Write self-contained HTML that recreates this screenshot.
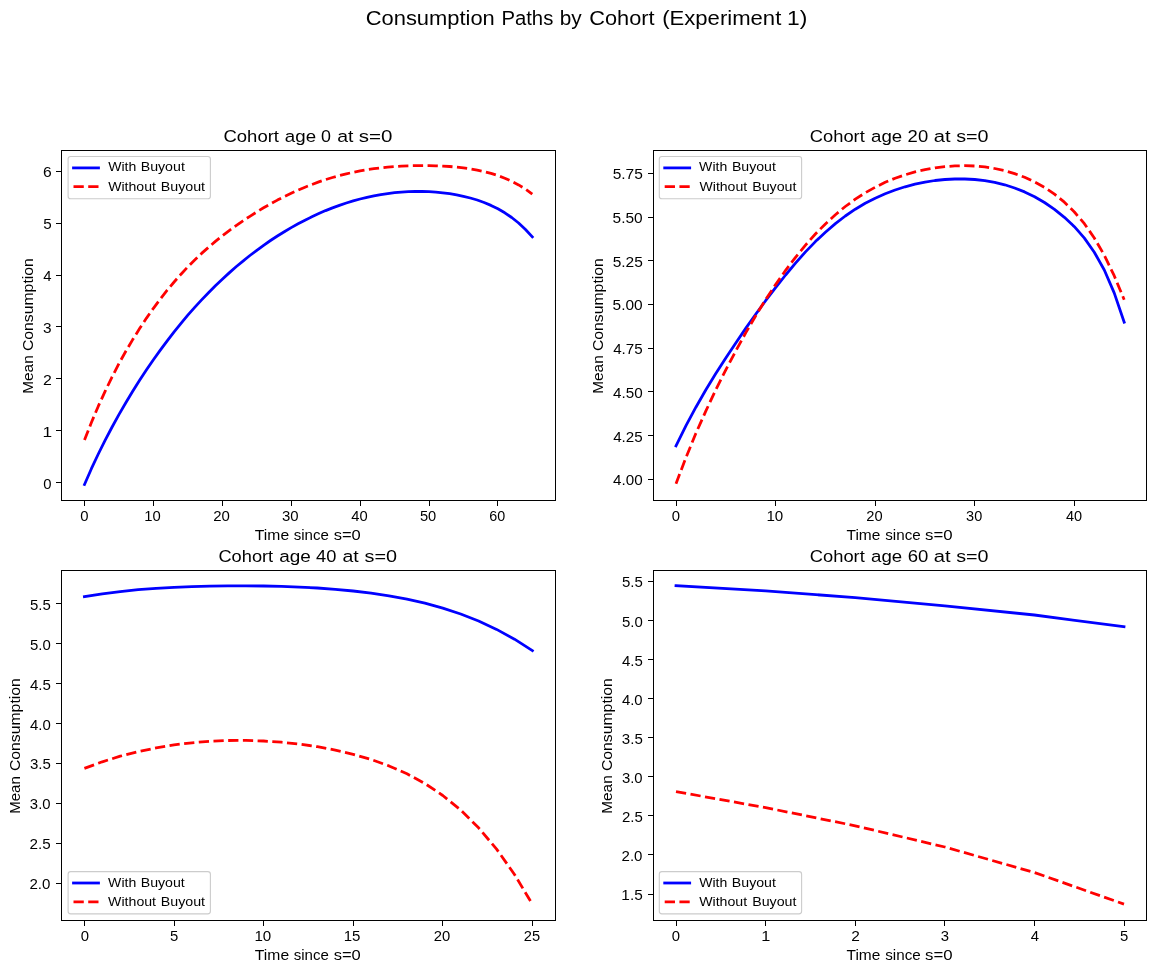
<!DOCTYPE html>
<html><head><meta charset="utf-8"><title>Consumption Paths by Cohort</title>
<style>
html,body{margin:0;padding:0;background:#fff;}
svg{display:block;}
text{font-family:"Liberation Sans", sans-serif;fill:#000;}
.t10{font-size:14.3px;}
.t12{font-size:17.2px;}
.t9{font-size:12.9px;}
.t14{font-size:20.0px;}
.sp{fill:none;stroke:#000;stroke-width:1;shape-rendering:crispEdges;}
.tk{stroke:#000;stroke-width:1;shape-rendering:crispEdges;}
.b{fill:none;stroke:#0000ff;stroke-width:2.78;stroke-linejoin:round;stroke-linecap:square;}
.r{fill:none;stroke:#ff0000;stroke-width:2.78;stroke-linejoin:round;stroke-linecap:butt;stroke-dasharray:10.28 4.44;}
.lg{fill:#fff;fill-opacity:0.8;stroke:#ccc;stroke-width:1.11;}
</style></head><body>
<svg width="1156" height="973" viewBox="0 0 1156 973">
<rect x="0" y="0" width="1156" height="973" fill="#fff"/>
<g opacity="0.999">
<polyline class="b" points="84.5,484.5 91.4,468.7 98.3,454.0 105.2,440.1 112.1,427.0 118.9,414.6 125.8,402.7 132.7,391.3 139.6,380.3 146.5,369.8 153.4,359.7 160.3,350.1 167.2,340.8 174.1,331.9 181.0,323.4 187.8,315.2 194.7,307.4 201.6,299.9 208.5,292.7 215.4,285.8 222.3,279.2 229.2,272.9 236.1,266.8 243.0,261.1 249.9,255.5 256.8,250.3 263.6,245.3 270.5,240.5 277.4,236.0 284.3,231.7 291.2,227.6 298.1,223.8 305.0,220.2 311.9,216.8 318.8,213.6 325.6,210.6 332.5,207.9 339.4,205.4 346.3,203.0 353.2,200.9 360.1,199.0 367.0,197.4 373.9,195.9 380.8,194.6 387.7,193.6 394.6,192.7 401.4,192.1 408.3,191.7 415.2,191.5 422.1,191.5 429.0,191.7 435.9,192.1 442.8,192.8 449.7,193.7 456.6,194.9 463.4,196.3 470.3,198.0 477.2,200.0 484.1,202.5 491.0,205.4 497.9,208.8 504.8,212.8 511.7,217.5 518.6,223.0 525.5,229.5 532.3,236.9"/>
<polyline class="r" points="84.5,440.1 91.4,422.5 98.3,406.2 105.2,391.1 112.1,376.9 118.9,363.7 125.8,351.3 132.7,339.6 139.6,328.6 146.5,318.1 153.4,308.3 160.3,299.0 167.2,290.2 174.1,282.0 181.0,274.2 187.8,266.9 194.7,260.0 201.6,253.4 208.5,247.3 215.4,241.4 222.3,235.9 229.2,230.6 236.1,225.6 243.0,220.8 249.9,216.3 256.8,211.9 263.6,207.8 270.5,203.9 277.4,200.1 284.3,196.6 291.2,193.3 298.1,190.1 305.0,187.2 311.9,184.5 318.8,181.9 325.6,179.6 332.5,177.5 339.4,175.5 346.3,173.8 353.2,172.3 360.1,170.9 367.0,169.7 373.9,168.7 380.8,167.8 387.7,167.1 394.6,166.6 401.4,166.1 408.3,165.8 415.2,165.7 422.1,165.6 429.0,165.6 435.9,165.8 442.8,166.1 449.7,166.5 456.6,167.1 463.4,167.9 470.3,168.9 477.2,170.1 484.1,171.6 491.0,173.4 497.9,175.6 504.8,178.2 511.7,181.3 518.6,184.9 525.5,189.1 532.3,194.1"/>
<rect class="sp" x="61.5" y="150.5" width="494.0" height="350.0"/>
<line class="tk" x1="84.5" y1="500.5" x2="84.5" y2="505.7"/>
<line class="tk" x1="153.4" y1="500.5" x2="153.4" y2="505.7"/>
<line class="tk" x1="222.3" y1="500.5" x2="222.3" y2="505.7"/>
<line class="tk" x1="291.2" y1="500.5" x2="291.2" y2="505.7"/>
<line class="tk" x1="360.1" y1="500.5" x2="360.1" y2="505.7"/>
<line class="tk" x1="429.0" y1="500.5" x2="429.0" y2="505.7"/>
<line class="tk" x1="497.9" y1="500.5" x2="497.9" y2="505.7"/>
<line class="tk" x1="56.3" y1="482.5" x2="61.5" y2="482.5"/>
<line class="tk" x1="56.3" y1="430.6" x2="61.5" y2="430.6"/>
<line class="tk" x1="56.3" y1="378.8" x2="61.5" y2="378.8"/>
<line class="tk" x1="56.3" y1="326.9" x2="61.5" y2="326.9"/>
<line class="tk" x1="56.3" y1="275.1" x2="61.5" y2="275.1"/>
<line class="tk" x1="56.3" y1="223.2" x2="61.5" y2="223.2"/>
<line class="tk" x1="56.3" y1="171.4" x2="61.5" y2="171.4"/>
<rect class="lg" x="68.1" y="156.5" width="142.3" height="42.3" rx="2.6" ry="2.6"/>
<line x1="73.5" y1="167.9" x2="98.5" y2="167.9" stroke="#0000ff" stroke-width="2.78" stroke-linecap="square"/>
<line x1="73.5" y1="186.7" x2="98.5" y2="186.7" stroke="#ff0000" stroke-width="2.78" stroke-dasharray="10.28 4.44"/>
<polyline class="b" points="676.0,445.9 686.0,425.7 695.9,407.2 705.9,389.8 715.8,373.5 725.8,357.9 735.8,342.9 745.7,328.4 755.7,314.3 765.6,300.7 775.6,287.6 785.6,275.0 795.5,263.1 805.5,251.9 815.4,241.6 825.4,232.2 835.4,223.6 845.3,216.0 855.3,209.2 865.2,203.3 875.2,198.2 885.2,193.8 895.1,190.0 905.1,186.8 915.0,184.2 925.0,182.1 935.0,180.5 944.9,179.5 954.9,179.0 964.8,179.0 974.8,179.5 984.8,180.6 994.7,182.4 1004.7,184.8 1014.6,188.0 1024.6,191.9 1034.6,196.7 1044.5,202.5 1054.5,209.3 1064.4,217.3 1074.4,226.7 1084.4,238.1 1094.3,252.2 1104.3,270.0 1114.2,292.9 1124.2,322.2"/>
<polyline class="r" points="676.0,483.7 686.0,457.5 695.9,433.3 705.9,410.9 715.8,389.8 725.8,369.9 735.8,350.9 745.7,332.9 755.7,315.8 765.6,299.7 775.6,284.6 785.6,270.4 795.5,257.3 805.5,245.1 815.4,234.0 825.4,223.9 835.4,214.7 845.3,206.5 855.3,199.2 865.2,192.8 875.2,187.2 885.2,182.3 895.1,178.2 905.1,174.8 915.0,171.9 925.0,169.6 935.0,167.8 944.9,166.6 954.9,165.9 964.8,165.7 974.8,166.0 984.8,166.9 994.7,168.5 1004.7,170.6 1014.6,173.6 1024.6,177.3 1034.6,181.9 1044.5,187.4 1054.5,194.2 1064.4,202.2 1074.4,212.0 1084.4,223.7 1094.3,238.0 1104.3,255.2 1114.2,275.7 1124.2,299.7"/>
<rect class="sp" x="653.5" y="150.5" width="493.0" height="350.0"/>
<line class="tk" x1="676.0" y1="500.5" x2="676.0" y2="505.7"/>
<line class="tk" x1="775.6" y1="500.5" x2="775.6" y2="505.7"/>
<line class="tk" x1="875.2" y1="500.5" x2="875.2" y2="505.7"/>
<line class="tk" x1="974.8" y1="500.5" x2="974.8" y2="505.7"/>
<line class="tk" x1="1074.4" y1="500.5" x2="1074.4" y2="505.7"/>
<line class="tk" x1="648.3" y1="479.2" x2="653.5" y2="479.2"/>
<line class="tk" x1="648.3" y1="435.5" x2="653.5" y2="435.5"/>
<line class="tk" x1="648.3" y1="391.8" x2="653.5" y2="391.8"/>
<line class="tk" x1="648.3" y1="348.1" x2="653.5" y2="348.1"/>
<line class="tk" x1="648.3" y1="304.4" x2="653.5" y2="304.4"/>
<line class="tk" x1="648.3" y1="260.7" x2="653.5" y2="260.7"/>
<line class="tk" x1="648.3" y1="217.0" x2="653.5" y2="217.0"/>
<line class="tk" x1="648.3" y1="173.3" x2="653.5" y2="173.3"/>
<rect class="lg" x="659.3" y="156.5" width="142.3" height="42.3" rx="2.6" ry="2.6"/>
<line x1="664.7" y1="167.9" x2="689.7" y2="167.9" stroke="#0000ff" stroke-width="2.78" stroke-linecap="square"/>
<line x1="664.7" y1="186.7" x2="689.7" y2="186.7" stroke="#ff0000" stroke-width="2.78" stroke-dasharray="10.28 4.44"/>
<polyline class="b" points="84.4,596.7 102.3,593.8 120.2,591.6 138.2,589.7 156.1,588.4 174.0,587.3 191.9,586.6 209.8,586.1 227.8,585.8 245.7,585.8 263.6,586.0 281.5,586.4 299.4,587.1 317.4,588.0 335.3,589.3 353.2,591.0 371.1,593.1 389.0,595.8 407.0,599.1 424.9,603.1 442.8,608.1 460.7,614.0 478.6,621.0 496.6,629.4 514.5,639.2 532.4,650.6"/>
<polyline class="r" points="84.4,768.4 102.3,761.8 120.2,756.2 138.2,751.6 156.1,747.9 174.0,744.9 191.9,742.8 209.8,741.3 227.8,740.5 245.7,740.4 263.6,741.0 281.5,742.2 299.4,744.1 317.4,746.7 335.3,750.1 353.2,754.3 371.1,759.5 389.0,765.9 407.0,773.8 424.9,783.5 442.8,795.5 460.7,810.0 478.6,827.8 496.6,849.1 514.5,874.5 532.4,904.2"/>
<rect class="sp" x="61.5" y="570.5" width="494.0" height="350.0"/>
<line class="tk" x1="84.4" y1="920.5" x2="84.4" y2="925.7"/>
<line class="tk" x1="174.0" y1="920.5" x2="174.0" y2="925.7"/>
<line class="tk" x1="263.6" y1="920.5" x2="263.6" y2="925.7"/>
<line class="tk" x1="353.2" y1="920.5" x2="353.2" y2="925.7"/>
<line class="tk" x1="442.8" y1="920.5" x2="442.8" y2="925.7"/>
<line class="tk" x1="532.4" y1="920.5" x2="532.4" y2="925.7"/>
<line class="tk" x1="56.3" y1="883.2" x2="61.5" y2="883.2"/>
<line class="tk" x1="56.3" y1="843.3" x2="61.5" y2="843.3"/>
<line class="tk" x1="56.3" y1="803.3" x2="61.5" y2="803.3"/>
<line class="tk" x1="56.3" y1="763.4" x2="61.5" y2="763.4"/>
<line class="tk" x1="56.3" y1="723.5" x2="61.5" y2="723.5"/>
<line class="tk" x1="56.3" y1="683.5" x2="61.5" y2="683.5"/>
<line class="tk" x1="56.3" y1="643.6" x2="61.5" y2="643.6"/>
<line class="tk" x1="56.3" y1="603.7" x2="61.5" y2="603.7"/>
<rect class="lg" x="68.1" y="871.6" width="142.3" height="42.3" rx="2.6" ry="2.6"/>
<line x1="73.5" y1="883.0" x2="98.5" y2="883.0" stroke="#0000ff" stroke-width="2.78" stroke-linecap="square"/>
<line x1="73.5" y1="901.8" x2="98.5" y2="901.8" stroke="#ff0000" stroke-width="2.78" stroke-dasharray="10.28 4.44"/>
<polyline class="b" points="676.0,585.6 765.6,590.8 855.2,597.7 944.8,605.9 1034.4,615.0 1124.0,626.7"/>
<polyline class="r" points="676.0,791.6 765.6,807.6 855.2,825.8 944.8,847.0 1034.4,872.5 1124.0,904.1"/>
<rect class="sp" x="653.5" y="570.5" width="493.0" height="350.0"/>
<line class="tk" x1="676.0" y1="920.5" x2="676.0" y2="925.7"/>
<line class="tk" x1="765.6" y1="920.5" x2="765.6" y2="925.7"/>
<line class="tk" x1="855.2" y1="920.5" x2="855.2" y2="925.7"/>
<line class="tk" x1="944.8" y1="920.5" x2="944.8" y2="925.7"/>
<line class="tk" x1="1034.4" y1="920.5" x2="1034.4" y2="925.7"/>
<line class="tk" x1="1124.0" y1="920.5" x2="1124.0" y2="925.7"/>
<line class="tk" x1="648.3" y1="894.0" x2="653.5" y2="894.0"/>
<line class="tk" x1="648.3" y1="854.9" x2="653.5" y2="854.9"/>
<line class="tk" x1="648.3" y1="815.9" x2="653.5" y2="815.9"/>
<line class="tk" x1="648.3" y1="776.8" x2="653.5" y2="776.8"/>
<line class="tk" x1="648.3" y1="737.7" x2="653.5" y2="737.7"/>
<line class="tk" x1="648.3" y1="698.6" x2="653.5" y2="698.6"/>
<line class="tk" x1="648.3" y1="659.5" x2="653.5" y2="659.5"/>
<line class="tk" x1="648.3" y1="620.5" x2="653.5" y2="620.5"/>
<line class="tk" x1="648.3" y1="581.4" x2="653.5" y2="581.4"/>
<rect class="lg" x="659.3" y="871.6" width="142.3" height="42.3" rx="2.6" ry="2.6"/>
<line x1="664.7" y1="883.0" x2="689.7" y2="883.0" stroke="#0000ff" stroke-width="2.78" stroke-linecap="square"/>
<line x1="664.7" y1="901.8" x2="689.7" y2="901.8" stroke="#ff0000" stroke-width="2.78" stroke-dasharray="10.28 4.44"/>
<text x="365.70" y="24.5" class="t14" textLength="129.10" lengthAdjust="spacingAndGlyphs">Consumption</text>
<text x="501.46" y="24.5" class="t14" textLength="51.84" lengthAdjust="spacingAndGlyphs">Paths</text>
<text x="559.70" y="24.5" class="t14" textLength="21.94" lengthAdjust="spacingAndGlyphs">by</text>
<text x="589.26" y="24.5" class="t14" textLength="65.32" lengthAdjust="spacingAndGlyphs">Cohort</text>
<text x="662.19" y="24.5" class="t14" textLength="119.11" lengthAdjust="spacingAndGlyphs">(Experiment</text>
<text x="786.98" y="24.5" class="t14" textLength="20.32" lengthAdjust="spacingAndGlyphs">1)</text>
<text x="223.44" y="141.8" class="t12" textLength="55.54" lengthAdjust="spacingAndGlyphs">Cohort</text>
<text x="284.87" y="141.8" class="t12" textLength="31.21" lengthAdjust="spacingAndGlyphs">age</text>
<text x="321.04" y="141.8" class="t12" textLength="9.95" lengthAdjust="spacingAndGlyphs">0</text>
<text x="337.24" y="141.8" class="t12" textLength="16.18" lengthAdjust="spacingAndGlyphs">at</text>
<text x="358.79" y="141.8" class="t12" textLength="33.68" lengthAdjust="spacingAndGlyphs">s=0</text>
<text x="809.82" y="141.8" class="t12" textLength="54.98" lengthAdjust="spacingAndGlyphs">Cohort</text>
<text x="871.05" y="141.8" class="t12" textLength="31.09" lengthAdjust="spacingAndGlyphs">age</text>
<text x="907.63" y="141.8" class="t12" textLength="20.53" lengthAdjust="spacingAndGlyphs">20</text>
<text x="933.76" y="141.8" class="t12" textLength="16.79" lengthAdjust="spacingAndGlyphs">at</text>
<text x="956.20" y="141.8" class="t12" textLength="32.36" lengthAdjust="spacingAndGlyphs">s=0</text>
<text x="218.48" y="561.8" class="t12" textLength="54.67" lengthAdjust="spacingAndGlyphs">Cohort</text>
<text x="279.20" y="561.8" class="t12" textLength="31.60" lengthAdjust="spacingAndGlyphs">age</text>
<text x="316.00" y="561.8" class="t12" textLength="20.30" lengthAdjust="spacingAndGlyphs">40</text>
<text x="342.53" y="561.8" class="t12" textLength="16.24" lengthAdjust="spacingAndGlyphs">at</text>
<text x="364.55" y="561.8" class="t12" textLength="32.54" lengthAdjust="spacingAndGlyphs">s=0</text>
<text x="809.82" y="561.8" class="t12" textLength="54.98" lengthAdjust="spacingAndGlyphs">Cohort</text>
<text x="871.05" y="561.8" class="t12" textLength="31.09" lengthAdjust="spacingAndGlyphs">age</text>
<text x="907.67" y="561.8" class="t12" textLength="20.63" lengthAdjust="spacingAndGlyphs">60</text>
<text x="933.76" y="561.8" class="t12" textLength="16.79" lengthAdjust="spacingAndGlyphs">at</text>
<text x="956.20" y="561.8" class="t12" textLength="32.36" lengthAdjust="spacingAndGlyphs">s=0</text>
<text x="254.87" y="539.8" class="t10" textLength="34.27" lengthAdjust="spacingAndGlyphs">Time</text>
<text x="293.70" y="539.8" class="t10" textLength="35.17" lengthAdjust="spacingAndGlyphs">since</text>
<text x="333.70" y="539.8" class="t10" textLength="27.10" lengthAdjust="spacingAndGlyphs">s=0</text>
<text x="846.53" y="539.8" class="t10" textLength="33.80" lengthAdjust="spacingAndGlyphs">Time</text>
<text x="885.26" y="539.8" class="t10" textLength="35.54" lengthAdjust="spacingAndGlyphs">since</text>
<text x="925.03" y="539.8" class="t10" textLength="27.53" lengthAdjust="spacingAndGlyphs">s=0</text>
<text x="254.87" y="959.8" class="t10" textLength="34.27" lengthAdjust="spacingAndGlyphs">Time</text>
<text x="293.70" y="959.8" class="t10" textLength="35.17" lengthAdjust="spacingAndGlyphs">since</text>
<text x="333.70" y="959.8" class="t10" textLength="27.10" lengthAdjust="spacingAndGlyphs">s=0</text>
<text x="846.53" y="959.8" class="t10" textLength="33.80" lengthAdjust="spacingAndGlyphs">Time</text>
<text x="885.26" y="959.8" class="t10" textLength="35.54" lengthAdjust="spacingAndGlyphs">since</text>
<text x="925.03" y="959.8" class="t10" textLength="27.53" lengthAdjust="spacingAndGlyphs">s=0</text>
<text x="33.2" y="393.80" class="t10" textLength="38.60" lengthAdjust="spacingAndGlyphs" transform="rotate(-90 33.2 393.80)">Mean</text>
<text x="33.2" y="351.02" class="t10" textLength="92.82" lengthAdjust="spacingAndGlyphs" transform="rotate(-90 33.2 351.02)">Consumption</text>
<text x="603.2" y="393.80" class="t10" textLength="38.60" lengthAdjust="spacingAndGlyphs" transform="rotate(-90 603.2 393.80)">Mean</text>
<text x="603.2" y="351.02" class="t10" textLength="92.82" lengthAdjust="spacingAndGlyphs" transform="rotate(-90 603.2 351.02)">Consumption</text>
<text x="20.1" y="813.80" class="t10" textLength="37.60" lengthAdjust="spacingAndGlyphs" transform="rotate(-90 20.1 813.80)">Mean</text>
<text x="20.1" y="771.02" class="t10" textLength="92.82" lengthAdjust="spacingAndGlyphs" transform="rotate(-90 20.1 771.02)">Consumption</text>
<text x="612.4" y="813.80" class="t10" textLength="38.60" lengthAdjust="spacingAndGlyphs" transform="rotate(-90 612.4 813.80)">Mean</text>
<text x="612.4" y="771.02" class="t10" textLength="92.82" lengthAdjust="spacingAndGlyphs" transform="rotate(-90 612.4 771.02)">Consumption</text>
<text x="80.37" y="520.9" class="t10" textLength="8.27" lengthAdjust="spacingAndGlyphs">0</text>
<text x="144.21" y="520.9" class="t10" textLength="16.48" lengthAdjust="spacingAndGlyphs">10</text>
<text x="213.25" y="520.9" class="t10" textLength="16.65" lengthAdjust="spacingAndGlyphs">20</text>
<text x="282.06" y="520.9" class="t10" textLength="16.61" lengthAdjust="spacingAndGlyphs">30</text>
<text x="351.36" y="520.9" class="t10" textLength="16.39" lengthAdjust="spacingAndGlyphs">40</text>
<text x="419.95" y="520.9" class="t10" textLength="16.33" lengthAdjust="spacingAndGlyphs">50</text>
<text x="489.23" y="520.9" class="t10" textLength="15.96" lengthAdjust="spacingAndGlyphs">60</text>
<text x="43.37" y="488.5" class="t10" textLength="8.27" lengthAdjust="spacingAndGlyphs">0</text>
<text x="42.53" y="436.6" class="t10" textLength="9.62" lengthAdjust="spacingAndGlyphs">1</text>
<text x="42.98" y="384.8" class="t10" textLength="8.82" lengthAdjust="spacingAndGlyphs">2</text>
<text x="43.03" y="332.9" class="t10" textLength="8.57" lengthAdjust="spacingAndGlyphs">3</text>
<text x="43.39" y="281.1" class="t10" textLength="8.27" lengthAdjust="spacingAndGlyphs">4</text>
<text x="43.33" y="229.2" class="t10" textLength="8.47" lengthAdjust="spacingAndGlyphs">5</text>
<text x="43.11" y="177.4" class="t10" textLength="8.69" lengthAdjust="spacingAndGlyphs">6</text>
<text x="108.17" y="170.7" class="t9" textLength="28.13" lengthAdjust="spacingAndGlyphs">With</text>
<text x="140.70" y="170.7" class="t9" textLength="44.14" lengthAdjust="spacingAndGlyphs">Buyout</text>
<text x="108.15" y="191.1" class="t9" textLength="47.74" lengthAdjust="spacingAndGlyphs">Without</text>
<text x="160.76" y="191.1" class="t9" textLength="44.32" lengthAdjust="spacingAndGlyphs">Buyout</text>
<text x="671.87" y="520.9" class="t10" textLength="8.27" lengthAdjust="spacingAndGlyphs">0</text>
<text x="766.41" y="520.9" class="t10" textLength="16.87" lengthAdjust="spacingAndGlyphs">10</text>
<text x="866.28" y="520.9" class="t10" textLength="16.34" lengthAdjust="spacingAndGlyphs">20</text>
<text x="966.12" y="520.9" class="t10" textLength="16.13" lengthAdjust="spacingAndGlyphs">30</text>
<text x="1065.91" y="520.9" class="t10" textLength="16.17" lengthAdjust="spacingAndGlyphs">40</text>
<text x="613.14" y="485.2" class="t10" textLength="29.61" lengthAdjust="spacingAndGlyphs">4.00</text>
<text x="613.19" y="441.5" class="t10" textLength="29.51" lengthAdjust="spacingAndGlyphs">4.25</text>
<text x="613.14" y="397.8" class="t10" textLength="29.61" lengthAdjust="spacingAndGlyphs">4.50</text>
<text x="613.19" y="354.1" class="t10" textLength="29.51" lengthAdjust="spacingAndGlyphs">4.75</text>
<text x="612.64" y="310.4" class="t10" textLength="30.10" lengthAdjust="spacingAndGlyphs">5.00</text>
<text x="612.67" y="266.7" class="t10" textLength="30.23" lengthAdjust="spacingAndGlyphs">5.25</text>
<text x="612.64" y="223.0" class="t10" textLength="30.10" lengthAdjust="spacingAndGlyphs">5.50</text>
<text x="612.67" y="179.3" class="t10" textLength="30.23" lengthAdjust="spacingAndGlyphs">5.75</text>
<text x="699.14" y="170.7" class="t9" textLength="28.16" lengthAdjust="spacingAndGlyphs">With</text>
<text x="731.90" y="170.7" class="t9" textLength="43.94" lengthAdjust="spacingAndGlyphs">Buyout</text>
<text x="699.47" y="191.1" class="t9" textLength="47.72" lengthAdjust="spacingAndGlyphs">Without</text>
<text x="752.20" y="191.1" class="t9" textLength="44.25" lengthAdjust="spacingAndGlyphs">Buyout</text>
<text x="80.87" y="940.9" class="t10" textLength="8.27" lengthAdjust="spacingAndGlyphs">0</text>
<text x="170.05" y="940.9" class="t10" textLength="8.27" lengthAdjust="spacingAndGlyphs">5</text>
<text x="254.41" y="940.9" class="t10" textLength="16.87" lengthAdjust="spacingAndGlyphs">10</text>
<text x="343.75" y="940.9" class="t10" textLength="16.74" lengthAdjust="spacingAndGlyphs">15</text>
<text x="433.78" y="940.9" class="t10" textLength="16.47" lengthAdjust="spacingAndGlyphs">20</text>
<text x="523.75" y="940.9" class="t10" textLength="16.33" lengthAdjust="spacingAndGlyphs">25</text>
<text x="29.49" y="889.2" class="t10" textLength="20.94" lengthAdjust="spacingAndGlyphs">2.0</text>
<text x="29.51" y="849.3" class="t10" textLength="21.16" lengthAdjust="spacingAndGlyphs">2.5</text>
<text x="29.88" y="809.3" class="t10" textLength="20.67" lengthAdjust="spacingAndGlyphs">3.0</text>
<text x="29.90" y="769.4" class="t10" textLength="20.91" lengthAdjust="spacingAndGlyphs">3.5</text>
<text x="29.93" y="729.5" class="t10" textLength="20.78" lengthAdjust="spacingAndGlyphs">4.0</text>
<text x="29.91" y="689.5" class="t10" textLength="21.00" lengthAdjust="spacingAndGlyphs">4.5</text>
<text x="29.94" y="649.6" class="t10" textLength="20.78" lengthAdjust="spacingAndGlyphs">5.0</text>
<text x="29.97" y="609.7" class="t10" textLength="20.83" lengthAdjust="spacingAndGlyphs">5.5</text>
<text x="108.13" y="886.7" class="t9" textLength="28.17" lengthAdjust="spacingAndGlyphs">With</text>
<text x="140.70" y="886.7" class="t9" textLength="44.07" lengthAdjust="spacingAndGlyphs">Buyout</text>
<text x="108.12" y="906.3" class="t9" textLength="47.94" lengthAdjust="spacingAndGlyphs">Without</text>
<text x="160.79" y="906.3" class="t9" textLength="44.28" lengthAdjust="spacingAndGlyphs">Buyout</text>
<text x="671.87" y="940.9" class="t10" textLength="8.27" lengthAdjust="spacingAndGlyphs">0</text>
<text x="761.20" y="940.9" class="t10" textLength="9.06" lengthAdjust="spacingAndGlyphs">1</text>
<text x="851.20" y="940.9" class="t10" textLength="8.60" lengthAdjust="spacingAndGlyphs">2</text>
<text x="940.87" y="940.9" class="t10" textLength="8.27" lengthAdjust="spacingAndGlyphs">3</text>
<text x="1030.70" y="940.9" class="t10" textLength="8.27" lengthAdjust="spacingAndGlyphs">4</text>
<text x="1120.05" y="940.9" class="t10" textLength="8.27" lengthAdjust="spacingAndGlyphs">5</text>
<text x="621.37" y="900.0" class="t10" textLength="21.40" lengthAdjust="spacingAndGlyphs">1.5</text>
<text x="621.55" y="860.9" class="t10" textLength="20.89" lengthAdjust="spacingAndGlyphs">2.0</text>
<text x="621.95" y="821.9" class="t10" textLength="20.87" lengthAdjust="spacingAndGlyphs">2.5</text>
<text x="621.91" y="782.8" class="t10" textLength="20.65" lengthAdjust="spacingAndGlyphs">3.0</text>
<text x="621.86" y="743.7" class="t10" textLength="20.96" lengthAdjust="spacingAndGlyphs">3.5</text>
<text x="621.94" y="704.6" class="t10" textLength="20.69" lengthAdjust="spacingAndGlyphs">4.0</text>
<text x="621.95" y="665.5" class="t10" textLength="20.86" lengthAdjust="spacingAndGlyphs">4.5</text>
<text x="621.94" y="626.5" class="t10" textLength="20.79" lengthAdjust="spacingAndGlyphs">5.0</text>
<text x="621.96" y="587.4" class="t10" textLength="20.86" lengthAdjust="spacingAndGlyphs">5.5</text>
<text x="699.18" y="886.7" class="t9" textLength="28.12" lengthAdjust="spacingAndGlyphs">With</text>
<text x="731.87" y="886.7" class="t9" textLength="44.04" lengthAdjust="spacingAndGlyphs">Buyout</text>
<text x="699.15" y="906.3" class="t9" textLength="48.02" lengthAdjust="spacingAndGlyphs">Without</text>
<text x="752.20" y="906.3" class="t9" textLength="44.26" lengthAdjust="spacingAndGlyphs">Buyout</text>
</g>
</svg>
</body></html>
